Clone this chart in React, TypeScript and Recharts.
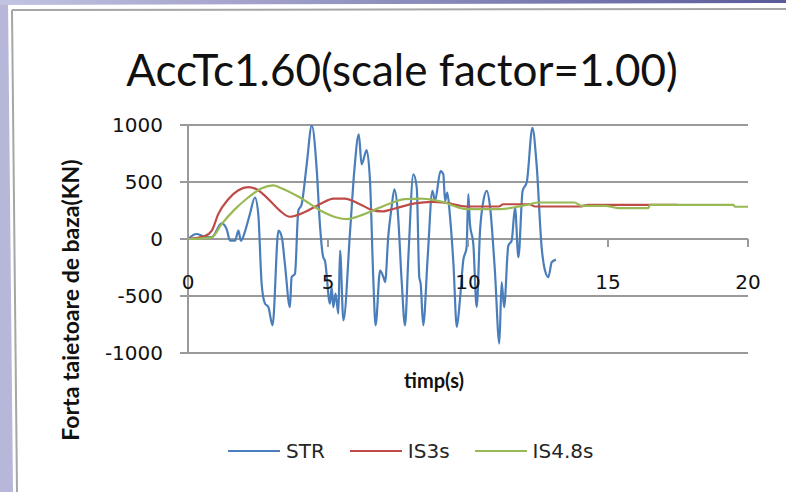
import React from 'react';
import { LineChart, Line, XAxis, YAxis, CartesianGrid, Legend } from 'recharts';

// time (s) / base shear (kN) pairs
const STR: [number, number][] = [
  [0, 0], [0.3, 44], [0.6, 20], [0.85, 17], [1.2, 137], [1.38, 87], [1.5, -15], [1.68, -15],
  [1.8, 73], [1.89, -15], [2.04, 70], [2.21, 218], [2.39, 364], [2.51, 218], [2.63, -393],
  [2.75, -567], [2.87, -597], [3.02, -757], [3.23, 73], [3.35, 15], [3.46, -218], [3.64, -597],
  [3.7, -335], [3.82, -305], [3.94, 247], [4.06, 305], [4.24, 655], [4.42, 995], [4.6, 600],
  [4.71, 131], [4.83, -160], [4.89, -189], [5.07, -567], [5.13, -422], [5.19, -597], [5.27, -480],
  [5.37, -655], [5.43, -102], [5.55, -713], [5.79, 73], [5.94, 600], [6.1, 917], [6.2, 655],
  [6.38, 780], [6.5, 509], [6.62, -364], [6.7, -757], [6.86, -277], [6.98, -335], [7.04, -378],
  [7.15, 15], [7.27, 276], [7.37, 436], [7.49, 247], [7.63, -364], [7.75, -757], [7.87, -160],
  [8.05, 567], [8.17, 451], [8.26, -335], [8.31, -393], [8.4, -757], [8.56, -160], [8.73, 422],
  [8.82, 335], [9.02, 596], [9.12, 567], [9.18, 335], [9.26, 407], [9.36, 189], [9.48, -218],
  [9.6, -771], [9.71, -538], [9.83, -189], [9.95, -73], [10.01, 393], [10.07, 131], [10.19, -44],
  [10.31, -597], [10.43, 73], [10.55, 335], [10.67, 422], [10.79, 276], [10.96, -277],
  [11.12, -917], [11.2, -378], [11.29, -597], [11.44, -58], [11.56, -15], [11.68, 276],
  [11.8, -160], [11.95, 422], [12.1, 500], [12.3, 975], [12.45, 655], [12.63, -73], [12.75, -277],
  [12.87, -335], [12.99, -204], [13.14, -181],
];

const IS3S: [number, number][] = [
  [0, 0], [0.6, 25], [0.85, 73], [1.08, 218], [1.44, 349], [1.8, 428], [2.15, 455], [2.45, 436],
  [2.75, 378], [3.05, 305], [3.29, 247], [3.64, 195], [4.0, 218], [4.71, 305], [5.2, 355],
  [5.6, 355], [6.14, 305], [6.56, 255], [6.92, 242], [7.39, 268], [8.1, 312], [8.7, 326],
  [9.2, 318], [9.95, 285], [11.1, 285], [11.26, 305], [12.2, 305], [12.4, 285], [14.0, 285],
  [14.3, 300], [17.5, 300],
];

const IS48S: [number, number][] = [
  [0, 0], [0.85, 15], [1.2, 131], [1.68, 262], [2.15, 364], [2.63, 445], [3.05, 471], [3.29, 450],
  [4.0, 364], [4.71, 253], [5.31, 189], [5.67, 175], [6.14, 204], [6.44, 233], [7.15, 305],
  [7.75, 349], [8.35, 355], [8.82, 340], [9.18, 320], [9.48, 291], [9.95, 262], [11.14, 262],
  [11.62, 276], [12.2, 305], [12.5, 320], [13.8, 320], [14.05, 291], [14.9, 291], [15.4, 271],
  [16.44, 271], [16.5, 300], [19.47, 300], [19.54, 283], [20, 283],
];

const X_TICKS = [0, 5, 10, 15, 20];
const Y_TICKS = [-1000, -500, 0, 500, 1000];

const SERIES = [
  { name: 'STR', color: '#4a7ebb', points: STR },
  { name: 'IS3s', color: '#be4b48', points: IS3S },
  { name: 'IS4.8s', color: '#98b954', points: IS48S },
];

const W = 786;
const H = 492;
const PLOT = { left: 188, right: 748, top: 125, bottom: 353 };
const ZERO_Y = PLOT.top + (PLOT.bottom - PLOT.top) / 2;
const TICK_FONT = "'DejaVu Sans', Verdana, sans-serif";
const LABEL_FONT = "Lato, 'Liberation Sans', sans-serif";
const GRID = '#9a9a9a';

function XTick({ x, payload }: any) {
  return (
    <g>
      <line x1={x} x2={x} y1={ZERO_Y} y2={ZERO_Y + 8} stroke={GRID} strokeWidth={2} />
      <text x={x} y={ZERO_Y + 43} textAnchor="middle" dominantBaseline="central"
        fontFamily={TICK_FONT} fontSize={20} fill="#111">
        {payload.value}
      </text>
    </g>
  );
}

function YTick({ x, y, payload }: any) {
  return (
    <text x={x} y={y} textAnchor="end" dominantBaseline="central"
      fontFamily={TICK_FONT} fontSize={20} fill="#111">
      {payload.value}
    </text>
  );
}

// legend keeps the series order of the original (STR, IS3s, IS4.8s)
function LegendContent() {
  return (
    <div style={{ display: 'flex', alignItems: 'center', fontFamily: TICK_FONT, fontSize: 20, color: '#262626' }}>
      {SERIES.map((s) => (
        <div key={s.name} style={{ display: 'flex', alignItems: 'center', marginRight: 25 }}>
          <svg width={52} height={6}>
            <line x1={0} x2={52} y1={3} y2={3} stroke={s.color} strokeWidth={2} />
          </svg>
          <span style={{ marginLeft: 6, lineHeight: '24px' }}>{s.name}</span>
        </div>
      ))}
    </div>
  );
}

export default function App() {
  return (
    <div style={{ position: 'absolute', left: 0, top: 0, width: W, height: H, background: '#fff', overflow: 'hidden' }}>
      {/* slide frame + title */}
      <svg width={W} height={H} style={{ position: 'absolute', left: 0, top: 0 }}>
        <defs>
          <linearGradient id="topband" x1="0" x2="1" y1="0" y2="0">
            <stop offset="0" stopColor="#c3c3e2" />
            <stop offset="1" stopColor="#5a5a9a" />
          </linearGradient>
        </defs>
        <polygon points={`0,0 8,0 13,${H} 0,${H}`} fill="#b7b7da" />
        <polygon points={`0,0 ${W},0 ${W},3 0,5`} fill="url(#topband)" />
        <line x1={12} y1={10} x2={17} y2={H} stroke="#a6a6a6" strokeWidth={2} />
        <line x1={12} y1={10} x2={W} y2={9} stroke="#a6a6a6" strokeWidth={2} />
        <text x={402} y={86} textAnchor="middle" fontFamily="Lato, 'Liberation Sans', sans-serif"
          fontSize={44} fill="#111">
          AccTc1.60(scale factor=1.00)
        </text>
      </svg>
      <div style={{ position: 'absolute', left: 0, top: 0 }}>
        <LineChart width={W} height={H}
          margin={{ top: PLOT.top, right: W - PLOT.right, bottom: 0, left: 0 }}>
          <CartesianGrid vertical={false} stroke={GRID} strokeWidth={2} />
          <XAxis type="number" dataKey="t" domain={[0, 20]} ticks={X_TICKS} height={H - PLOT.bottom}
            axisLine={false} tickLine={false} tick={<XTick />} interval={0}
            label={{
              content: () => (
                <text x={434} y={380} textAnchor="middle" dominantBaseline="central" fontFamily={LABEL_FONT}
                  fontWeight={700} fontSize={20} fill="#111">
                  timp(s)
                </text>
              ),
            }} />
          <YAxis type="number" domain={[-1000, 1000]} ticks={Y_TICKS} width={PLOT.left} allowDataOverflow
            axisLine={{ stroke: GRID, strokeWidth: 2 }} tickLine={{ stroke: GRID, strokeWidth: 2 }}
            tickSize={8} tickMargin={17} tick={<YTick />} interval={0}
            label={{
              content: () => (
                <text x={70} y={300} transform="rotate(-90, 70, 300)" textAnchor="middle" dominantBaseline="central"
                  fontFamily={LABEL_FONT} fontWeight={700} fontSize={23} fill="#111">
                  Forta taietoare de baza(KN)
                </text>
              ),
            }} />
          <Legend layout="horizontal" verticalAlign="middle" align="center" content={<LegendContent />}
            wrapperStyle={{ left: 228, top: 439, width: 520 }} />
          {SERIES.map((s) => (
            <Line key={s.name} name={s.name} data={s.points.map(([t, v]) => ({ t, v }))} dataKey="v"
              type="monotone" stroke={s.color} strokeWidth={2.2} dot={false} activeDot={false}
              isAnimationActive={false} />
          ))}
        </LineChart>
      </div>
    </div>
  );
}
